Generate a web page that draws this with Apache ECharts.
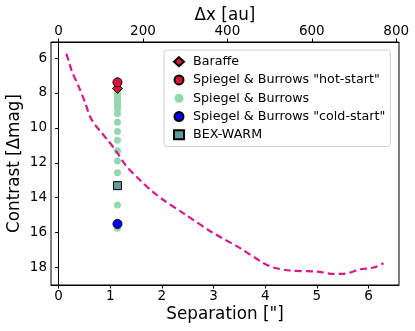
<!DOCTYPE html>
<html><head><meta charset="utf-8">
<script src="https://cdn.jsdelivr.net/npm/echarts@6/dist/echarts.min.js"></script>
<style>html,body{margin:0;padding:0;background:#fff}#c{width:415px;height:331px}</style>
</head><body><div id="c"></div>
<script>
// Contrast curve (dashed)
var curveSep = [0.15, 0.2, 0.26, 0.39, 0.52, 0.61, 0.7, 0.81, 0.95, 1.1, 1.32, 1.58, 1.8, 2.03, 2.42, 3.0, 3.52, 3.97, 4.16, 4.48, 5.0, 5.32, 5.52, 5.84, 6.1, 6.29];
var curveMag = [5.75, 6.2, 6.78, 7.64, 8.6, 9.36, 9.8, 10.2, 10.7, 11.27, 12.22, 13.0, 13.6, 14.13, 14.9, 16.03, 16.9, 17.75, 18.0, 18.17, 18.23, 18.36, 18.36, 18.1, 18.0, 17.75];
// Companion separation
var compSep = 1.14;
var baraffeMag = [7.74];
var hotStartMag = [7.39];
var sbMag = [7.87, 8.02, 8.16, 8.31, 8.44, 8.59, 8.75, 8.88, 9.17, 9.68, 10.21, 10.71, 11.31, 11.89, 12.57, 14.42, 15.75];
var coldStartMag = [15.5];
var bexWarmMag = [13.31];
// Axes
var sepTicks = [0, 1, 2, 3, 4, 5, 6];
var auTicks = [0, 200, 400, 600, 800];
var magTicks = [6, 8, 10, 12, 14, 16, 18];
var distancePc = 122.4;
var sepMin = -0.147, sepMax = 6.59;

function pts(arr) { return arr.map(function (v) { return [compSep, v]; }); }

var font = 'DejaVu Sans';
var chart = echarts.init(document.getElementById('c'));
var axisCommon = {
  nameMoveOverlap: false,
  axisLine: { show: true, lineStyle: { color: '#000', width: 1 } },
  axisTick: { show: true, length: 3.5, lineStyle: { color: '#000' } },
  splitLine: { show: false },
  axisLabel: { color: '#000', fontFamily: font, fontSize: 13.5, margin: 4 },
  nameTextStyle: { color: '#000', fontFamily: font, fontSize: 16.8 }
};
chart.setOption({
  animation: false,
  grid: { left: 51, right: 16, top: 42, bottom: 46, show: true, borderColor: '#000', borderWidth: 1, backgroundColor: 'transparent', containLabel: false, outerBoundsMode: 'none' },
  xAxis: [
    Object.assign({}, axisCommon, {
      type: 'value', position: 'bottom', min: sepMin, max: sepMax,
      name: 'Separation ["]', nameLocation: 'middle', nameGap: 21,
      axisTick: Object.assign({}, axisCommon.axisTick, { customValues: sepTicks }),
      axisLabel: Object.assign({}, axisCommon.axisLabel, { customValues: sepTicks })
    }),
    Object.assign({}, axisCommon, {
      type: 'value', position: 'top', min: sepMin * distancePc, max: sepMax * distancePc,
      name: 'Δx [au]', nameLocation: 'middle', nameGap: 18,
      axisTick: Object.assign({}, axisCommon.axisTick, { customValues: auTicks }),
      axisLabel: Object.assign({}, axisCommon.axisLabel, { customValues: auTicks })
    })
  ],
  yAxis: [
    Object.assign({}, axisCommon, {
      type: 'value', inverse: true, min: 5.08, max: 19.0,
      name: 'Contrast [Δmag]', nameLocation: 'middle', nameGap: 28,
      axisTick: Object.assign({}, axisCommon.axisTick, { customValues: magTicks }),
      axisLabel: Object.assign({}, axisCommon.axisLabel, { customValues: magTicks })
    })
  ],
  legend: {
    orient: 'vertical', left: 164, top: 50,
    padding: [5, 5, 5, 9],
    itemWidth: 10, itemHeight: 9, itemGap: 5,
    backgroundColor: '#fff', borderColor: '#d0d0d0', borderWidth: 1, borderRadius: 3,
    textStyle: { color: '#000', fontFamily: font, fontSize: 12.7, lineHeight: 13.3, padding: [0, 0, 0, 4] },
    data: [
      { name: 'Baraffe', icon: 'diamond' },
      { name: 'Spiegel & Burrows "hot-start"', icon: 'circle' },
      { name: 'Spiegel & Burrows', icon: 'circle' },
      { name: 'Spiegel & Burrows "cold-start"', icon: 'circle' },
      { name: 'BEX-WARM', icon: 'rect' }
    ]
  },
  series: [
    {
      name: 'Spiegel & Burrows', type: 'scatter', data: pts(sbMag), symbol: 'circle', symbolSize: 7,
      itemStyle: { color: '#93d7b0', opacity: 1 }, z: 2
    },
    {
      name: 'curve', type: 'line', data: curveSep.map(function (s, i) { return [s, curveMag[i]]; }),
      showSymbol: false, smooth: 0.3, lineStyle: { color: '#d41b8c', width: 2.2, type: [7, 4] }, z: 3
    },
    {
      name: 'BEX-WARM', type: 'scatter', data: pts(bexWarmMag), symbol: 'rect', symbolSize: 8,
      itemStyle: { color: '#5f9ea0', borderColor: '#000', borderWidth: 1, opacity: 1 }, z: 4
    },
    {
      name: 'Spiegel & Burrows "cold-start"', type: 'scatter', data: pts(coldStartMag), symbol: 'circle', symbolSize: 9,
      itemStyle: { color: '#0000ff', borderColor: '#000', borderWidth: 1, opacity: 1 }, z: 4
    },
    {
      name: 'Baraffe', type: 'scatter', data: pts(baraffeMag), symbol: 'diamond', symbolSize: 10,
      itemStyle: { color: '#dc143c', borderColor: '#000', borderWidth: 1, opacity: 1 }, z: 5
    },
    {
      name: 'Spiegel & Burrows "hot-start"', type: 'scatter', data: pts(hotStartMag), symbol: 'circle', symbolSize: 9,
      itemStyle: { color: '#dc143c', borderColor: '#000', borderWidth: 1, opacity: 1 }, z: 5
    }
  ]
});
</script></body></html>
